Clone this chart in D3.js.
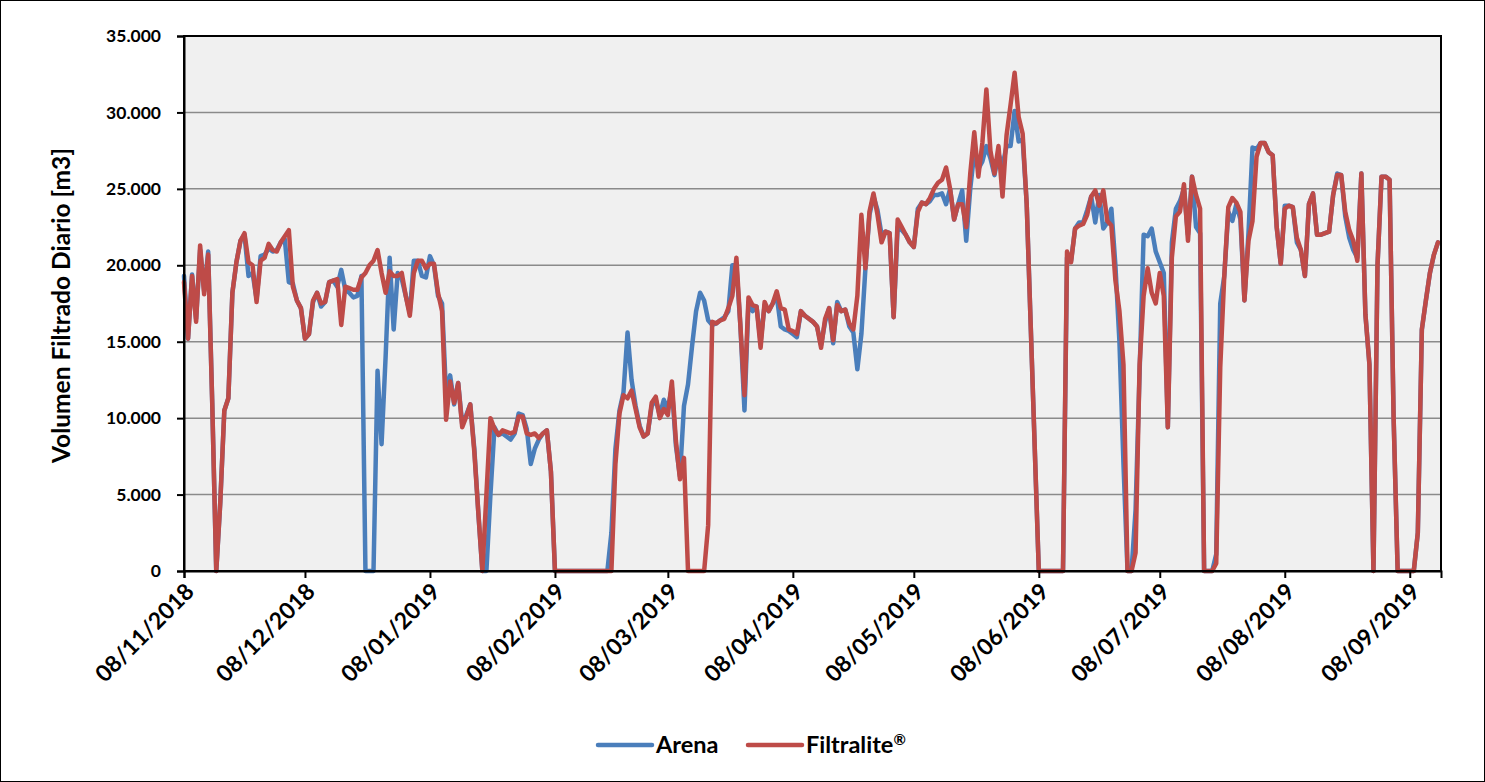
<!DOCTYPE html>
<html>
<head>
<meta charset="utf-8">
<script src="https://cdn.jsdelivr.net/npm/d3@7"></script>
<style>
  html, body { margin: 0; padding: 0; background: #fff; }
  svg text { font-family: Lato, "Open Sans", sans-serif; font-weight: 700; fill: #000; }
</style>
</head>
<body>
<svg id="chart" width="1485" height="782"></svg>
<script>
// ---- Data (daily values, thousands of m3) ----
const startDate = "2018-11-08";
const endDate = "2019-09-15";

const arena = [
19.3,15.2,19.4,16.5,21.0,18.3,20.9,11.0,0,4.5,
10.5,11.3,18.2,20.2,21.6,22.0,19.3,19.5,17.8,20.6,
20.7,21.1,20.9,21.0,21.5,21.7,18.9,18.8,17.7,17.2,
15.2,15.5,17.6,18.2,17.3,17.6,18.9,19.0,18.6,19.7,
18.4,18.2,17.9,18.0,19.3,0,0,0,13.1,8.3,
14.0,20.5,15.8,19.5,19.1,18.0,16.9,20.3,20.3,19.3,
19.2,20.6,20.0,18.0,17.5,11.5,12.8,10.9,12.3,9.6,
10.2,10.9,8.0,3.8,0,0,5.0,9.4,8.9,9.0,
8.8,8.6,9.0,10.3,10.2,9.3,7.0,8.0,8.6,9.0,
9.2,6.5,0,0,0,0,0,0,0,0,
0,0,0,0,0,0,2.5,8.0,10.5,11.7,
15.6,12.5,10.8,9.5,8.8,9.0,10.8,11.2,10.2,11.2,
10.6,12.0,8.2,6.2,10.8,12.2,14.7,17.0,18.2,17.7,
16.4,16.1,16.2,16.4,16.6,17.0,20.0,20.0,16.0,10.5,
17.6,17.0,17.3,15.0,17.4,17.0,17.5,18.0,16.0,15.8,
15.7,15.5,15.3,17.0,16.7,16.5,16.3,16.0,14.8,16.3,
17.2,14.9,17.6,17.0,17.1,16.0,15.6,13.2,15.5,19.8,
23.3,24.5,23.6,22.0,22.2,22.1,16.6,22.5,22.3,22.0,
21.5,21.2,23.7,24.1,24.0,24.2,24.6,24.6,24.7,24.0,
25.0,23.0,24.0,24.9,21.6,25.0,27.4,26.3,26.8,27.8,
27.0,25.9,27.3,26.5,27.8,27.8,30.1,28.1,28.2,24.0,
16.0,8.0,0,0,0,0,0,0,0,20.5,
20.3,22.4,22.8,22.8,23.6,24.5,22.8,24.6,22.4,22.8,
23.7,20.0,15.0,7.0,0,0,4.0,13.0,22.0,21.9,
22.4,20.9,20.2,19.5,9.4,21.5,23.7,24.2,25.0,22.0,
25.8,22.5,22.1,0,0,0,1.1,17.5,19.3,23.5,
22.9,24.0,23.0,17.7,22.1,27.7,27.6,28.0,28.0,27.4,
27.2,22.5,20.1,23.9,23.9,23.8,21.5,21.0,19.3,24.0,
24.7,22.0,22.0,22.1,22.2,24.6,26.0,25.9,23.2,21.8,
21.0,20.5,26.0,16.8,13.5,0,20.0,25.8,25.8,25.6,
10.0,0,0,0,0,0,2.5,15.8,17.7,19.5,
20.7,21.5
];

const filtralite = [
18.9,15.2,19.3,16.3,21.3,18.1,20.7,11.0,0,4.5,
10.5,11.3,18.2,20.2,21.6,22.1,20.2,20.0,17.6,20.3,
20.5,21.4,21.0,20.9,21.5,21.9,22.3,18.6,17.7,17.2,
15.2,15.5,17.7,18.2,17.5,17.6,18.9,19.0,19.1,16.1,
18.6,18.5,18.4,18.4,19.2,19.5,20.0,20.3,21.0,19.5,
18.2,19.6,19.3,19.3,19.5,18.0,16.7,19.5,20.3,20.3,
19.8,20.1,20.1,18.2,17.0,9.9,12.4,11.0,12.3,9.4,
10.1,10.9,7.8,3.8,0,5.0,10.0,9.3,8.9,9.2,
9.1,9.0,9.1,10.1,10.1,9.0,8.9,9.0,8.7,9.0,
9.2,6.5,0,0,0,0,0,0,0,0,
0,0,0,0,0,0,0,7.0,10.3,11.5,
11.3,11.8,10.6,9.4,8.8,9.0,11.0,11.4,10.0,10.6,
10.2,12.4,8.5,6.0,7.4,0,0,0,0,0,
3.0,16.3,16.2,16.4,16.5,17.2,18.0,20.5,16.0,11.5,
17.9,17.4,17.3,14.6,17.6,17.0,17.5,18.3,17.2,17.1,
15.8,15.7,15.5,17.0,16.7,16.5,16.3,16.0,14.6,16.5,
17.2,15.1,17.4,17.0,17.1,16.2,15.8,18.0,23.3,19.8,
23.5,24.7,23.3,21.5,22.2,22.1,16.6,23.0,22.5,22.0,
21.5,21.2,23.5,24.1,24.0,24.4,25.0,25.4,25.6,26.4,
25.0,23.0,24.0,24.0,22.5,26.0,28.7,25.8,28.0,31.5,
27.5,26.0,27.8,24.5,28.5,30.5,32.6,29.7,28.6,24.0,
16.0,8.0,0,0,0,0,0,0,0,20.9,
20.2,22.4,22.6,22.7,23.3,24.5,24.9,23.9,24.9,22.9,
22.6,19.0,17.0,13.5,0,0,1.2,13.5,18.0,19.8,
18.2,17.5,19.5,18.0,9.4,20.5,23.2,23.5,25.3,21.6,
25.8,24.6,23.7,0,0,0,0.5,13.3,19.3,23.8,
24.4,24.1,23.5,17.7,21.6,22.9,27.1,28.0,28.0,27.4,
27.2,22.5,20.1,23.7,23.9,23.8,21.8,21.0,19.3,24.0,
24.7,22.0,22.0,22.1,22.2,24.6,25.9,25.9,23.5,22.3,
21.6,20.3,26.0,16.8,13.5,0,20.0,25.8,25.8,25.6,
10.0,0,0,0,0,0,2.5,15.8,17.7,19.5,
20.7,21.5
];

const seriesNames = ["Arena", "Filtralite"];
const seriesSuffix = ["", "®"];
const seriesColors = ["#4a7ebb", "#be4b48"];

const xTickDates = ["2018-11-08","2018-12-08","2019-01-08","2019-02-08","2019-03-08","2019-04-08",
                    "2019-05-08","2019-06-08","2019-07-08","2019-08-08","2019-09-08"];
const xTickLabels = ["08/11/2018","08/12/2018","08/01/2019","08/02/2019","08/03/2019","08/04/2019",
                     "08/05/2019","08/06/2019","08/07/2019","08/08/2019","08/09/2019"];
const yTickValues = [0, 5, 10, 15, 20, 25, 30, 35];
const yTickLabels = ["0","5.000","10.000","15.000","20.000","25.000","30.000","35.000"];
const yTitle = "Volumen Filtrado Diario [m3]";

// ---- Layout ----
const W = 1485, H = 782;
const plot = { left: 184, top: 36, right: 1441, bottom: 571 };

const parse = d3.utcParse("%Y-%m-%d");
const dates = d3.utcDay.range(parse(startDate), d3.utcDay.offset(parse(endDate), 1));

const svg = d3.select("#chart");

svg.append("rect").attr("x", 0.5).attr("y", 0.5).attr("width", W - 1).attr("height", H - 1)
  .attr("fill", "#fff").attr("stroke", "#000").attr("stroke-width", 1);

const x = d3.scaleUtc()
  .domain([parse(startDate), d3.utcHour.offset(parse(endDate), 18)])
  .range([plot.left, plot.right]);
const y = d3.scaleLinear().domain([0, 35]).range([plot.bottom, plot.top]);

svg.append("rect").attr("x", plot.left).attr("y", plot.top)
  .attr("width", plot.right - plot.left).attr("height", plot.bottom - plot.top)
  .attr("fill", "#f0f0f0");

svg.append("g").selectAll("line").data(yTickValues.filter(v => v > 0 && v < 35)).join("line")
  .attr("x1", plot.left).attr("x2", plot.right)
  .attr("y1", d => y(d)).attr("y2", d => y(d))
  .attr("stroke", "#8a8a8a").attr("stroke-width", 1.5);

const line = d3.line().x((d, i) => x(dates[i])).y(d => y(d));
[arena, filtralite].forEach((s, k) => {
  svg.append("path").datum(s)
    .attr("d", line)
    .attr("fill", "none")
    .attr("stroke", seriesColors[k])
    .attr("stroke-width", 4.5)
    .attr("stroke-linejoin", "round")
    .attr("stroke-linecap", "round");
});

svg.append("rect").attr("x", plot.left).attr("y", plot.top)
  .attr("width", plot.right - plot.left).attr("height", plot.bottom - plot.top)
  .attr("fill", "none").attr("stroke", "#000").attr("stroke-width", 2);

const yAxis = d3.axisLeft(y).tickValues(yTickValues)
  .tickFormat((d, i) => yTickLabels[i]).tickSize(7).tickPadding(16);
const gy = svg.append("g").attr("transform", `translate(${plot.left},0)`).call(yAxis);
gy.select(".domain").attr("stroke", "#000").attr("stroke-width", 2);
gy.selectAll(".tick line").attr("stroke", "#000").attr("stroke-width", 2);
gy.selectAll(".tick text").attr("font-size", 17.5).attr("font-family", "Lato, sans-serif").attr("font-weight", 700);

const xAxis = d3.axisBottom(x).tickValues(xTickDates.map(parse))
  .tickFormat((d, i) => xTickLabels[i]).tickSize(7);
const gx = svg.append("g").attr("transform", `translate(0,${plot.bottom})`).call(xAxis);
gx.select(".domain").attr("stroke", "#000").attr("stroke-width", 2);
gx.selectAll(".tick line").attr("stroke", "#000").attr("stroke-width", 2);
gx.selectAll(".tick text")
  .attr("font-size", 23).attr("font-family", "Lato, sans-serif").attr("font-weight", 700)
  .attr("text-anchor", "end")
  .attr("y", 0).attr("dy", 0)
  .attr("transform", "translate(11,22) rotate(-45)");

svg.append("text")
  .attr("transform", `translate(70,${(plot.top + plot.bottom) / 2 + 2}) rotate(-90)`)
  .attr("text-anchor", "middle").attr("font-size", 24.5)
  .text(yTitle);

const legend = svg.append("g");
const legX = [598, 748];
seriesNames.forEach((n, k) => {
  legend.append("line").attr("x1", legX[k]).attr("x2", legX[k] + 54)
    .attr("y1", 745).attr("y2", 745)
    .attr("stroke", seriesColors[k]).attr("stroke-width", 4.5).attr("stroke-linecap", "round");
  const t = legend.append("text").attr("x", legX[k] + 58).attr("y", 753)
    .attr("font-size", 23.5).text(n);
  if (seriesSuffix[k]) {
    t.append("tspan").attr("font-size", 15).attr("dy", -8).text(seriesSuffix[k]);
  }
});
</script>
</body>
</html>
